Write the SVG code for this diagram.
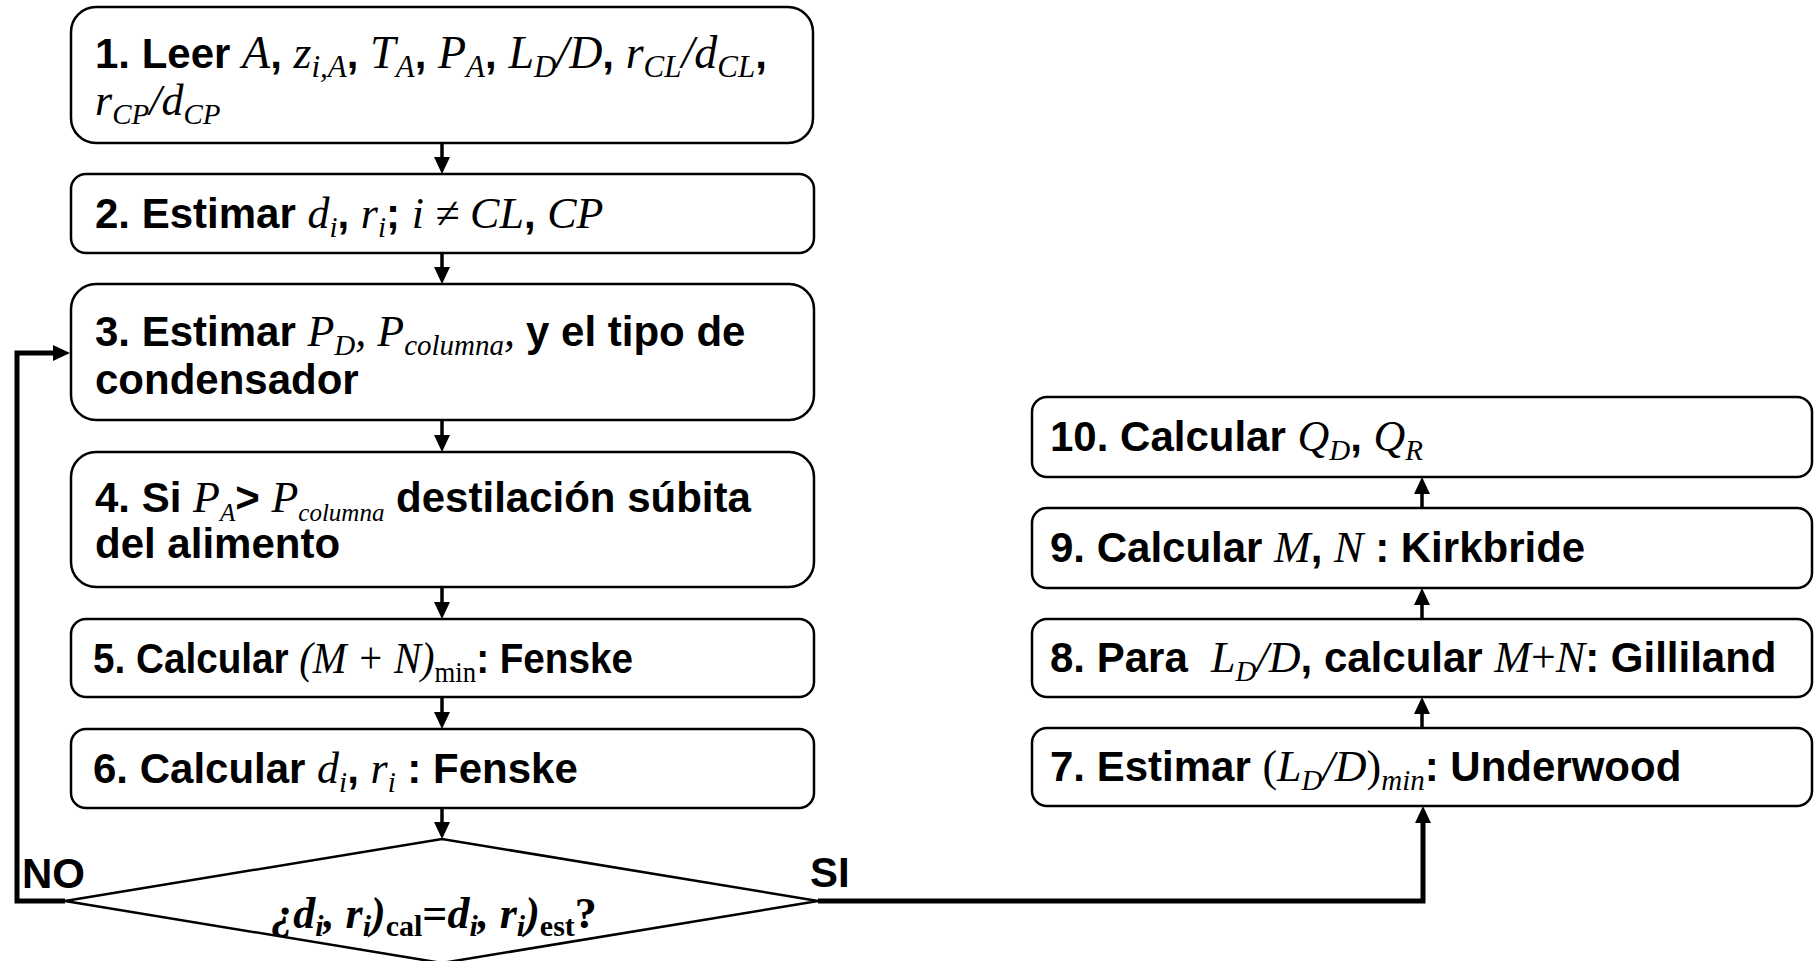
<svg xmlns="http://www.w3.org/2000/svg" width="1814" height="961" viewBox="0 0 1814 961">
<style>
.box{fill:#fff;stroke:#000;stroke-width:2.5}
.dia{fill:#fff;stroke:#000;stroke-width:2.5}
.c{fill:none;stroke:#000;stroke-width:3.5}
.ct{fill:none;stroke:#000;stroke-width:5}
.b{font-family:"Liberation Sans",Arial,sans-serif;font-weight:bold;font-size:42px;fill:#000}
.m{font-family:"Liberation Serif","Times New Roman",serif;font-style:italic;font-weight:normal;font-size:44px}
.u{font-family:"Liberation Serif","Times New Roman",serif;font-style:normal;font-weight:normal;font-size:44px}
.s{font-size:29px}
.big .m{font-size:46px}
.big .s{font-size:31px}
.sm .s{font-size:25px}
.db{font-family:"Liberation Serif","Times New Roman",serif;font-style:italic;font-weight:bold;font-size:44px;fill:#000}
.dbs{font-size:30px}
.up{font-style:normal}
</style>
<defs>
<marker id="ah" markerUnits="userSpaceOnUse" markerWidth="18" markerHeight="16" refX="0" refY="8" orient="auto" overflow="visible">
<path d="M0,0 L17,8 L0,16 z" fill="#000"/>
</marker>
</defs>

<g id="connectors">
<path class="c" d="M442,143 V157" marker-end="url(#ah)"/>
<path class="c" d="M442,253 V267" marker-end="url(#ah)"/>
<path class="c" d="M442,420 V435" marker-end="url(#ah)"/>
<path class="c" d="M442,587 V602" marker-end="url(#ah)"/>
<path class="c" d="M442,697 V712" marker-end="url(#ah)"/>
<path class="c" d="M442,808 V822" marker-end="url(#ah)"/>
<path class="ct" d="M65,901 H17 V353 H53" marker-end="url(#ah)"/>
<path class="ct" d="M818,901 H1423 V823" marker-end="url(#ah)"/>
<path class="c" d="M1422,728 V714" marker-end="url(#ah)"/>
<path class="c" d="M1422,619 V605" marker-end="url(#ah)"/>
<path class="c" d="M1422,508 V494" marker-end="url(#ah)"/>
</g>

<g id="n1">
<rect class="box" x="71" y="7" width="742" height="136" rx="25"/>
<text class="b big" x="95" y="68">1. Leer <tspan class="m">A</tspan>, <tspan class="m">z</tspan><tspan class="m s" dy="9">i,A</tspan><tspan dy="-9">, </tspan><tspan class="m">T</tspan><tspan class="m s" dy="9">A</tspan><tspan dy="-9">, </tspan><tspan class="m">P</tspan><tspan class="m s" dy="9">A</tspan><tspan dy="-9">, </tspan><tspan class="m">L</tspan><tspan class="m s" dy="9">D</tspan><tspan class="m" dy="-9">/D</tspan>, <tspan class="m">r</tspan><tspan class="m s" dy="9">CL</tspan><tspan class="m" dy="-9">/d</tspan><tspan class="m s" dy="9">CL</tspan><tspan dy="-9">,</tspan></text>
<text class="b" x="95" y="115"><tspan class="m">r</tspan><tspan class="m s" dy="9">CP</tspan><tspan class="m" dy="-9">/d</tspan><tspan class="m s" dy="9">CP</tspan></text>
</g>

<g id="n2">
<rect class="box" x="71" y="174" width="743" height="79" rx="15"/>
<text class="b" x="95" y="228">2. Estimar <tspan class="m">d</tspan><tspan class="m s" dy="9">i</tspan><tspan dy="-9">, </tspan><tspan class="m">r</tspan><tspan class="m s" dy="9">i</tspan><tspan dy="-9">; </tspan><tspan class="m">i ≠ CL</tspan>, <tspan class="m">CP</tspan></text>
</g>

<g id="n3">
<rect class="box" x="71" y="284" width="743" height="136" rx="25"/>
<text class="b" x="95" y="346">3. Estimar <tspan class="m">P</tspan><tspan class="m s" dy="9">D</tspan><tspan class="m" dy="-9">, </tspan><tspan class="m">P</tspan><tspan class="m s" dy="9">columna</tspan><tspan class="m" dy="-9">, </tspan>y el tipo de</text>
<text class="b" x="95" y="394">condensador</text>
</g>

<g id="n4">
<rect class="box" x="71" y="452" width="743" height="135" rx="25"/>
<text class="b sm" x="95" y="512">4. Si <tspan class="m">P</tspan><tspan class="m s" dy="9">A</tspan><tspan dy="-9">&gt; </tspan><tspan class="m">P</tspan><tspan class="m s" dy="9">columna</tspan><tspan dy="-9"> destilación súbita</tspan></text>
<text class="b" x="95" y="558">del alimento</text>
</g>

<g id="n5">
<rect class="box" x="71" y="619" width="743" height="78" rx="15"/>
<text class="b" x="93" y="673" textLength="540" lengthAdjust="spacingAndGlyphs">5. Calcular <tspan class="m">(M + N)</tspan><tspan class="u s" dy="9">min</tspan><tspan dy="-9">: Fenske</tspan></text>
</g>

<g id="n6">
<rect class="box" x="71" y="729" width="743" height="79" rx="15"/>
<text class="b" x="93" y="783">6. Calcular <tspan class="m">d</tspan><tspan class="m s" dy="9">i</tspan><tspan dy="-9">, </tspan><tspan class="m">r</tspan><tspan class="m s" dy="9">i</tspan><tspan dy="-9"> : Fenske</tspan></text>
</g>

<g id="n_dec">
<polygon class="dia" points="65,901 442,839 818,901 442,963"/>
<text class="db" x="434" y="928" text-anchor="middle">¿d<tspan class="dbs" dy="8">i</tspan><tspan dy="-8">, r</tspan><tspan class="dbs" dy="8">i</tspan><tspan dy="-8">)</tspan><tspan class="dbs up" dy="8">cal</tspan><tspan class="up" dy="-8">=</tspan>d<tspan class="dbs" dy="8">i</tspan><tspan dy="-8">, r</tspan><tspan class="dbs" dy="8">i</tspan><tspan dy="-8">)</tspan><tspan class="dbs up" dy="8">est</tspan><tspan class="up" dy="-8">?</tspan></text>
</g>

<g id="labels">
<text class="b" x="22" y="888">NO</text>
<text class="b" x="810" y="887">SI</text>
</g>

<g id="n7">
<rect class="box" x="1032" y="728" width="780" height="78" rx="15"/>
<text class="b" x="1050" y="781">7. Estimar <tspan class="u">(</tspan><tspan class="m">L</tspan><tspan class="m s" dy="9">D</tspan><tspan class="m" dy="-9">/D</tspan><tspan class="u">)</tspan><tspan class="m s" dy="9">min</tspan><tspan dy="-9">: Underwood</tspan></text>
</g>

<g id="n8">
<rect class="box" x="1032" y="619" width="780" height="78" rx="15"/>
<text class="b" x="1050" y="672" style="white-space:pre">8. Para  <tspan class="m">L</tspan><tspan class="m s" dy="9">D</tspan><tspan class="m" dy="-9">/D</tspan>, calcular <tspan class="m">M</tspan><tspan class="u">+</tspan><tspan class="m">N</tspan>: Gilliland</text>
</g>

<g id="n9">
<rect class="box" x="1032" y="508" width="780" height="80" rx="15"/>
<text class="b" x="1050" y="562">9. Calcular <tspan class="m">M</tspan>, <tspan class="m">N</tspan> : Kirkbride</text>
</g>

<g id="n10">
<rect class="box" x="1032" y="397" width="780" height="80" rx="15"/>
<text class="b" x="1050" y="451">10. Calcular <tspan class="m">Q</tspan><tspan class="m s" dy="9">D</tspan><tspan dy="-9">, </tspan><tspan class="m">Q</tspan><tspan class="m s" dy="9">R</tspan></text>
</g>
</svg>
